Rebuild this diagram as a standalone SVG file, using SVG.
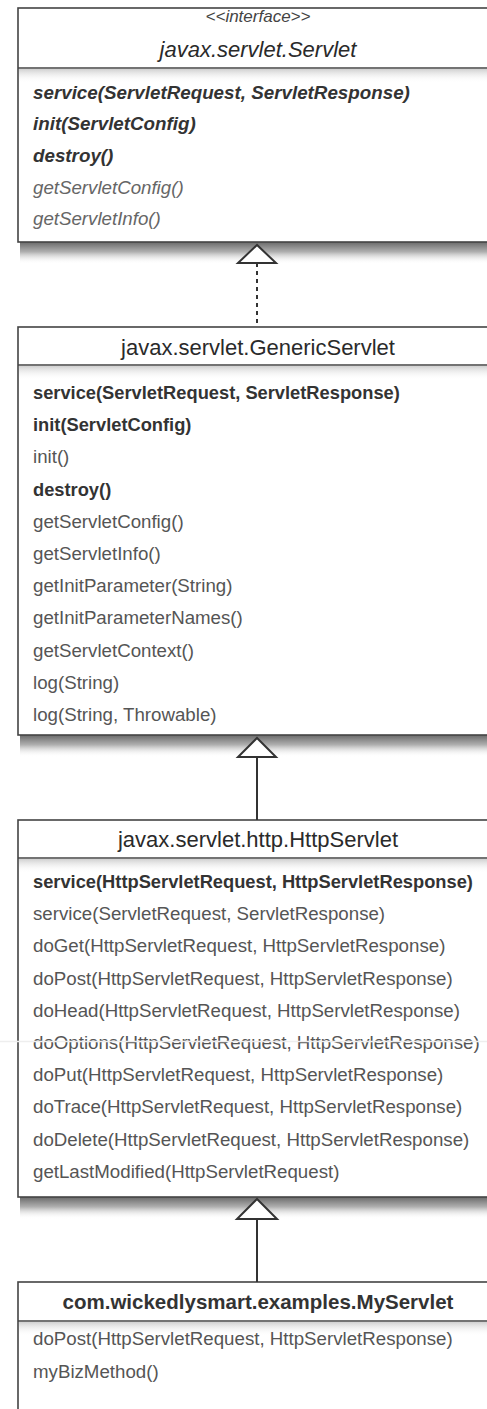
<svg xmlns="http://www.w3.org/2000/svg" width="487" height="1409" viewBox="0 0 487 1409">
<style>
.box{fill:#fff;stroke:#444;stroke-width:1.6}
.div{stroke:#444;stroke-width:1.6}
text{font-family:"Liberation Sans",Arial,sans-serif}
.ttl{font-size:22px;fill:#2a2a2a;text-anchor:middle}
.m{font-size:18.7px;fill:#555}
.mb{font-size:18.3px;fill:#333;font-weight:bold}
.mi{font-size:18.8px;fill:#333;font-weight:bold;font-style:italic}
.ml{font-size:18.7px;fill:#666;font-style:italic}
.con{stroke:#333;stroke-width:2;fill:none}
.tri{fill:#fff;stroke:#333;stroke-width:2;stroke-linejoin:miter}
</style>
<defs>
<linearGradient id="sh" x1="0" y1="0" x2="0" y2="1">
<stop offset="0" stop-color="#6a6a6a"/>
<stop offset="0.45" stop-color="#b0b0b0"/>
<stop offset="1" stop-color="#fff" stop-opacity="0"/>
</linearGradient>
<linearGradient id="hs" x1="0" y1="0" x2="0" y2="1">
<stop offset="0" stop-color="#d0d0d0"/>
<stop offset="1" stop-color="#fff" stop-opacity="0"/>
</linearGradient>
</defs>
<rect width="487" height="1409" fill="#fff"/>

<g id="shadows">
<rect x="20" y="242" width="480" height="22" fill="url(#sh)"/>
<rect x="20" y="735" width="480" height="22" fill="url(#sh)"/>
<rect x="20" y="1197" width="480" height="22" fill="url(#sh)"/>
</g>

<g id="servlet">
<rect class="box" x="18" y="8" width="480" height="234"/>
<rect x="19" y="69" width="478" height="14" fill="url(#hs)"/>
<line class="div" x1="18" y1="68" x2="498" y2="68"/>
<text x="258" y="22" style="font-size:17px;fill:#444;text-anchor:middle;font-style:italic">&lt;&lt;interface&gt;&gt;</text>
<text class="ttl" x="258" y="57" font-style="italic">javax.servlet.Servlet</text>
<text class="mi" x="33" y="99">service(ServletRequest, ServletResponse)</text>
<text class="mi" x="33" y="130">init(ServletConfig)</text>
<text class="mi" x="33" y="162">destroy()</text>
<text class="ml" x="33" y="194">getServletConfig()</text>
<text class="ml" x="33" y="225">getServletInfo()</text>
</g>

<g id="genericservlet">
<rect class="box" x="18" y="327" width="480" height="408"/>
<rect x="19" y="366" width="478" height="14" fill="url(#hs)"/>
<line class="div" x1="18" y1="365" x2="498" y2="365"/>
<text class="ttl" x="258" y="355">javax.servlet.GenericServlet</text>
<text class="mb" x="33" y="399">service(ServletRequest, ServletResponse)</text>
<text class="mb" x="33" y="431">init(ServletConfig)</text>
<text class="m" x="33" y="463">init()</text>
<text class="mb" x="33" y="496">destroy()</text>
<text class="m" x="33" y="528">getServletConfig()</text>
<text class="m" x="33" y="560">getServletInfo()</text>
<text class="m" x="33" y="592">getInitParameter(String)</text>
<text class="m" x="33" y="624">getInitParameterNames()</text>
<text class="m" x="33" y="657">getServletContext()</text>
<text class="m" x="33" y="689">log(String)</text>
<text class="m" x="33" y="721">log(String, Throwable)</text>
</g>

<g id="httpservlet">
<rect class="box" x="18" y="820" width="480" height="377"/>
<rect x="19" y="859" width="478" height="14" fill="url(#hs)"/>
<line class="div" x1="18" y1="858" x2="498" y2="858"/>
<text class="ttl" x="258" y="847">javax.servlet.http.HttpServlet</text>
<text class="mb" x="33" y="888">service(HttpServletRequest, HttpServletResponse)</text>
<text class="m" x="33" y="920">service(ServletRequest, ServletResponse)</text>
<text class="m" x="33" y="952">doGet(HttpServletRequest, HttpServletResponse)</text>
<text class="m" x="33" y="985">doPost(HttpServletRequest, HttpServletResponse)</text>
<text class="m" x="33" y="1017">doHead(HttpServletRequest, HttpServletResponse)</text>
<text class="m" x="33" y="1049">doOptions(HttpServletRequest, HttpServletResponse)</text>
<text class="m" x="33" y="1081">doPut(HttpServletRequest, HttpServletResponse)</text>
<text class="m" x="33" y="1113">doTrace(HttpServletRequest, HttpServletResponse)</text>
<text class="m" x="33" y="1146">doDelete(HttpServletRequest, HttpServletResponse)</text>
<text class="m" x="33" y="1178">getLastModified(HttpServletRequest)</text>
<line x1="0" y1="1041.5" x2="487" y2="1041.5" stroke="#eee" stroke-width="1.5"/>
</g>

<g id="myservlet">
<rect class="box" x="18" y="1282" width="480" height="140"/>
<rect x="19" y="1322" width="478" height="14" fill="url(#hs)"/>
<line class="div" x1="18" y1="1321" x2="498" y2="1321"/>
<text x="258" y="1309" style="font-size:20.5px;fill:#333;font-weight:bold;text-anchor:middle">com.wickedlysmart.examples.MyServlet</text>
<text class="m" x="33" y="1345">doPost(HttpServletRequest, HttpServletResponse)</text>
<text class="m" x="33" y="1378">myBizMethod()</text>
</g>

<g id="connectors">
<line class="con" x1="257" y1="263" x2="257" y2="327" stroke-dasharray="4,4"/>
<polygon class="tri" points="257,245 238,263 276,263"/>
<line class="con" x1="257" y1="757" x2="257" y2="820"/>
<polygon class="tri" points="257,738 238,757 276,757"/>
<line class="con" x1="257" y1="1219" x2="257" y2="1282"/>
<polygon class="tri" points="257,1199 237,1219 277,1219"/>
</g>
</svg>
